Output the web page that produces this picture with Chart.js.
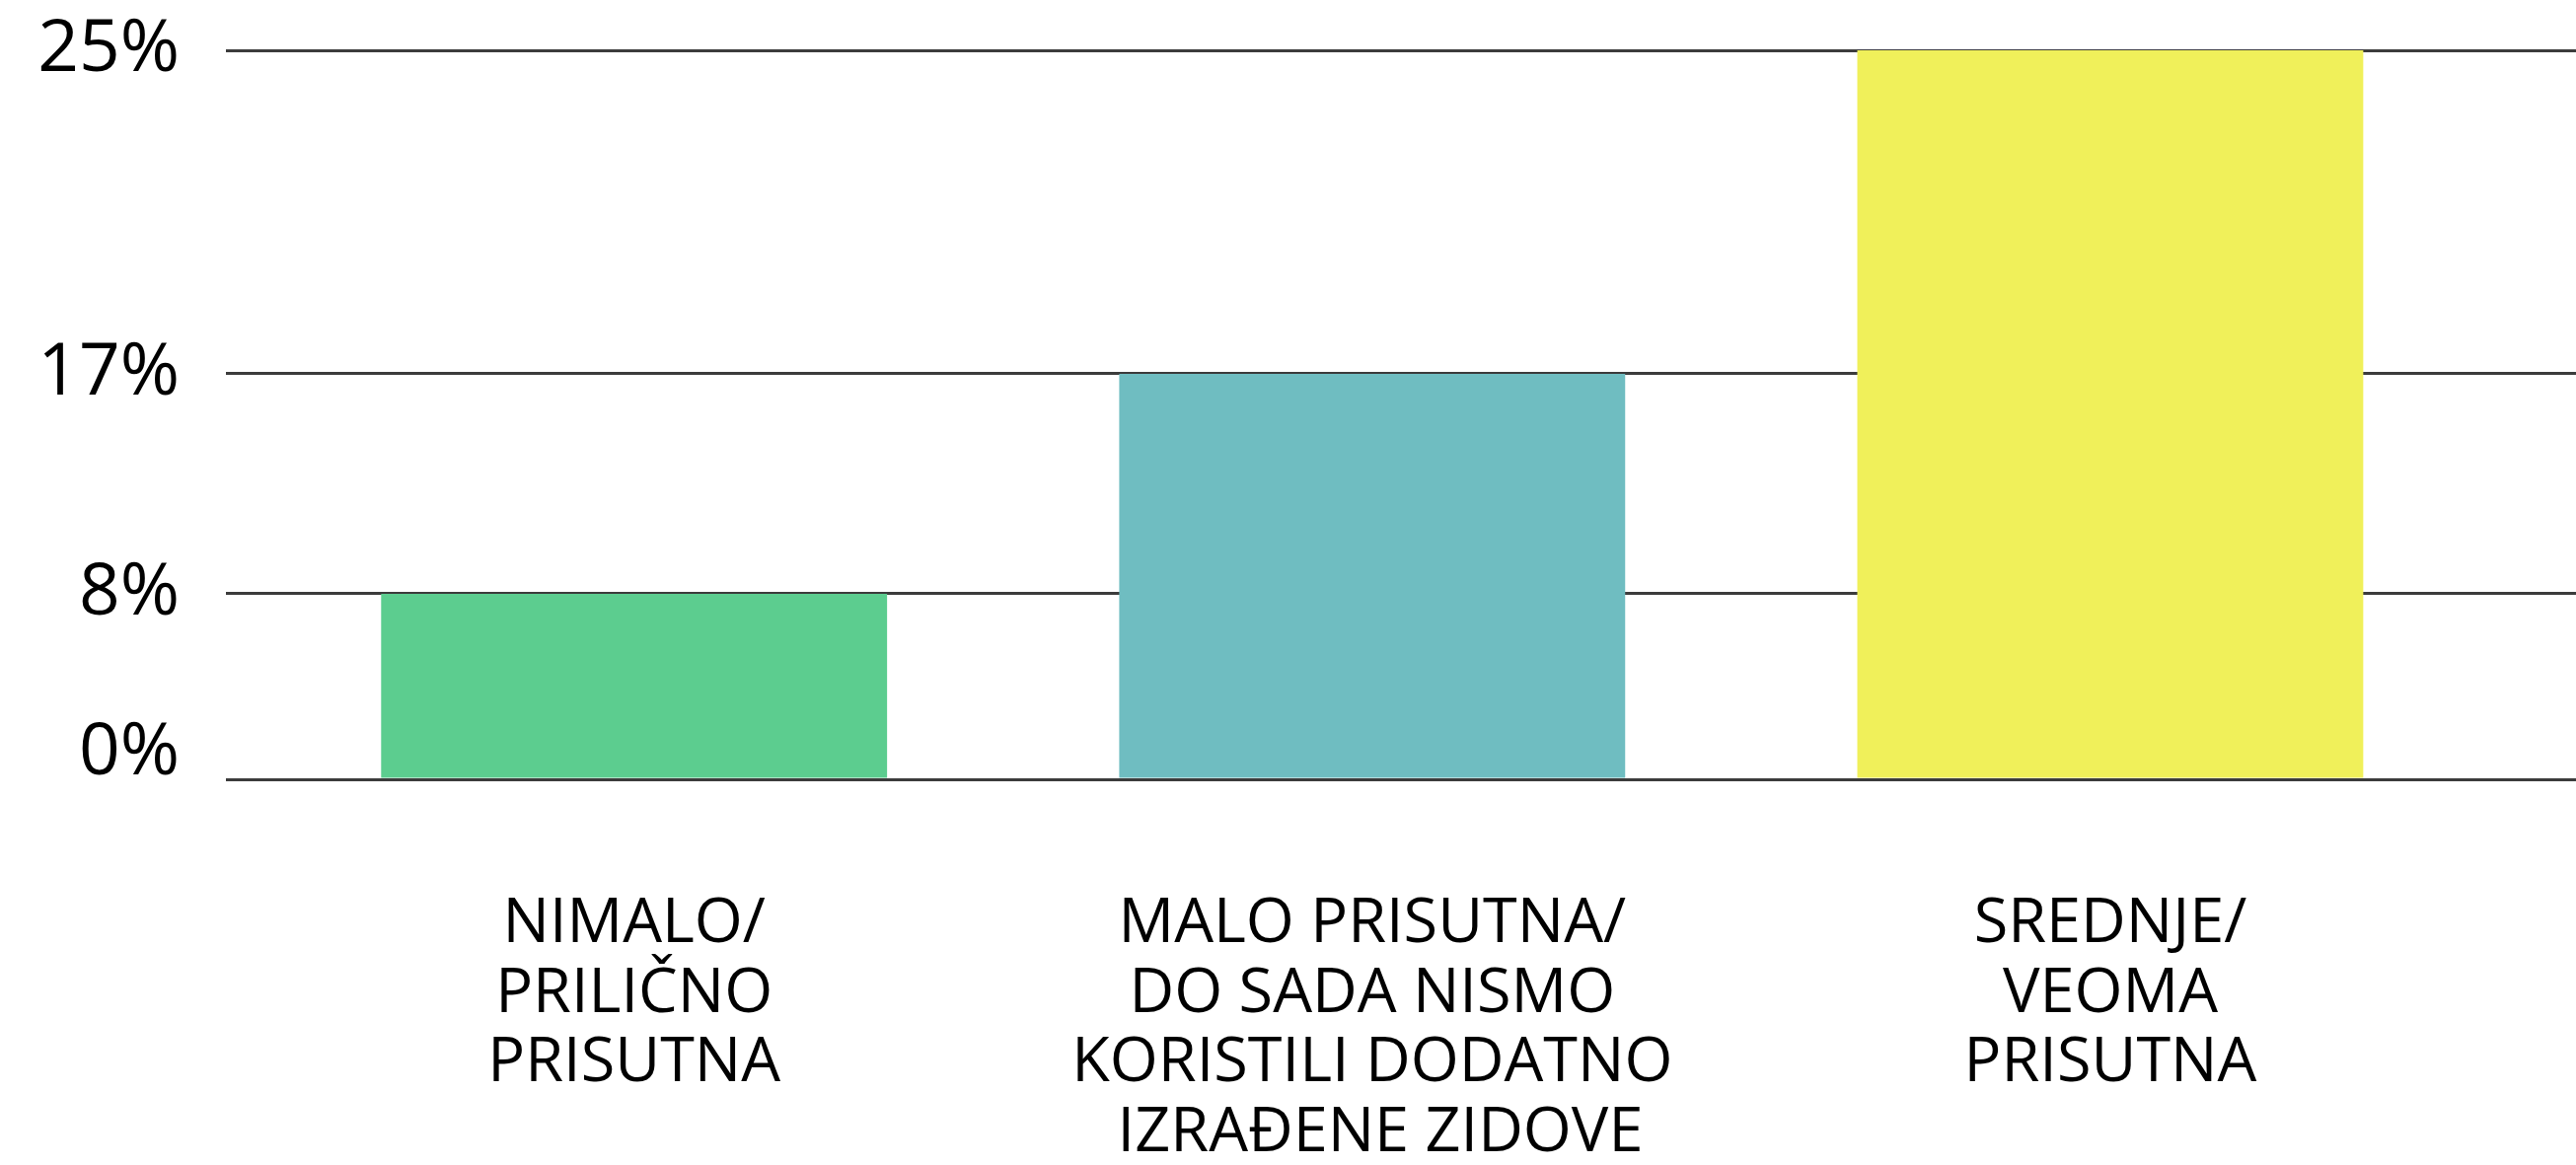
<!DOCTYPE html>
<html>
<head>
<meta charset="utf-8">
<script src="https://cdn.jsdelivr.net/npm/chart.js@4.4.1/dist/chart.umd.min.js"></script>
<style>
  html, body { margin: 0; padding: 0; background: #ffffff; }
  #wrap { width: 2611px; height: 1181px; }
</style>
</head>
<body>
<div id="wrap"><canvas id="c" width="2611" height="1181"></canvas></div>
<script>
// ---- data ----
const categories = [
  ["NIMALO/", "PRILIČNO", "PRISUTNA"],
  ["MALO PRISUTNA/", "DO SADA NISMO", "KORISTILI DODATNO", " IZRAĐENE ZIDOVE"],
  ["SREDNJE/", "VEOMA", "PRISUTNA"]
];
const values = [8, 17, 25];
const yTickValues = [0, 8, 17, 25];
const barColors = ["#5ccd8f", "#6fbdc1", "#f0f05a"];

// The reference axis is drawn non-uniformly: each labelled tick sits at its own height.
// value -> fraction of the axis height
const axisStops = [[0, 0], [8, 0.2544], [17, 0.5562], [25, 1]];

class PiecewiseScale extends Chart.LinearScale {
  static id = 'piecewise';
  static defaults = Chart.LinearScale.defaults;
  _toFrac(v) {
    const s = axisStops;
    if (v <= s[0][0]) return s[0][1] + (v - s[0][0]) * (s[1][1] - s[0][1]) / (s[1][0] - s[0][0]);
    for (let i = 1; i < s.length; i++) {
      if (v <= s[i][0]) {
        const a = s[i - 1], b = s[i];
        return a[1] + (v - a[0]) * (b[1] - a[1]) / (b[0] - a[0]);
      }
    }
    const a = s[s.length - 2], b = s[s.length - 1];
    return b[1] + (v - b[0]) * (b[1] - a[1]) / (b[0] - a[0]);
  }
  _fromFrac(f) {
    const s = axisStops;
    for (let i = 1; i < s.length; i++) {
      if (f <= s[i][1] || i === s.length - 1) {
        const a = s[i - 1], b = s[i];
        return a[0] + (f - a[1]) * (b[0] - a[0]) / (b[1] - a[1]);
      }
    }
  }
  getPixelForValue(value) {
    if (value === null || value === undefined || isNaN(value)) return NaN;
    return this.getPixelForDecimal(this._toFrac(value));
  }
  getValueForPixel(pixel) {
    return this._fromFrac(this.getDecimalForPixel(pixel));
  }
}
Chart.register(PiecewiseScale);

const points = values.map((v, i) => ({ x: i, y: v }));

new Chart(document.getElementById('c'), {
  type: 'bar',
  data: {
    datasets: [{
      data: points,
      backgroundColor: barColors,
      borderWidth: 0,
      categoryPercentage: 0.6855,
      barPercentage: 1
    }]
  },
  options: {
    responsive: false,
    animation: false,
    devicePixelRatio: 1,
    layout: { padding: { top: 51, right: 0, bottom: 0, left: 0 } },
    plugins: { legend: { display: false }, tooltip: { enabled: false } },
    scales: {
      x: {
        type: 'linear',
        offset: false,
        min: -0.553,
        max: 2.631,
        grid: { display: false, drawTicks: false, offset: false },
        border: { display: false },
        afterBuildTicks: (scale) => { scale.ticks = categories.map((c, i) => ({ value: i })); },
        afterFit: (scale) => { scale.height = 391; },
        ticks: {
          autoSkip: false,
          maxRotation: 0,
          minRotation: 0,
          padding: 112,
          color: '#000000',
          font: { family: '"Open Sans", "Noto Sans", sans-serif', size: 63, lineHeight: 1.12 },
          callback: (v) => categories[v]
        }
      },
      y: {
        type: 'piecewise',
        min: 0,
        max: 25,
        z: 1,
        afterBuildTicks: (scale) => { scale.ticks = yTickValues.map(v => ({ value: v })); },
        afterFit: (scale) => { scale.width = 229; scale.paddingTop = 0; scale.paddingBottom = 0; },
        grid: { color: '#3c3c3c', lineWidth: 3, drawTicks: false },
        border: { display: false },
        ticks: {
          padding: 47,
          color: '#000000',
          font: (ctx) => ({
            family: '"Open Sans", "Noto Sans", sans-serif',
            size: 73,
            lineHeight: (ctx.tick && ctx.tick.value === 0) ? 0.7 : 1
          }),
          callback: (v) => (v === 0 ? [v + '%', ''] : v + '%')
        }
      }
    }
  }
});
</script>
</body>
</html>
